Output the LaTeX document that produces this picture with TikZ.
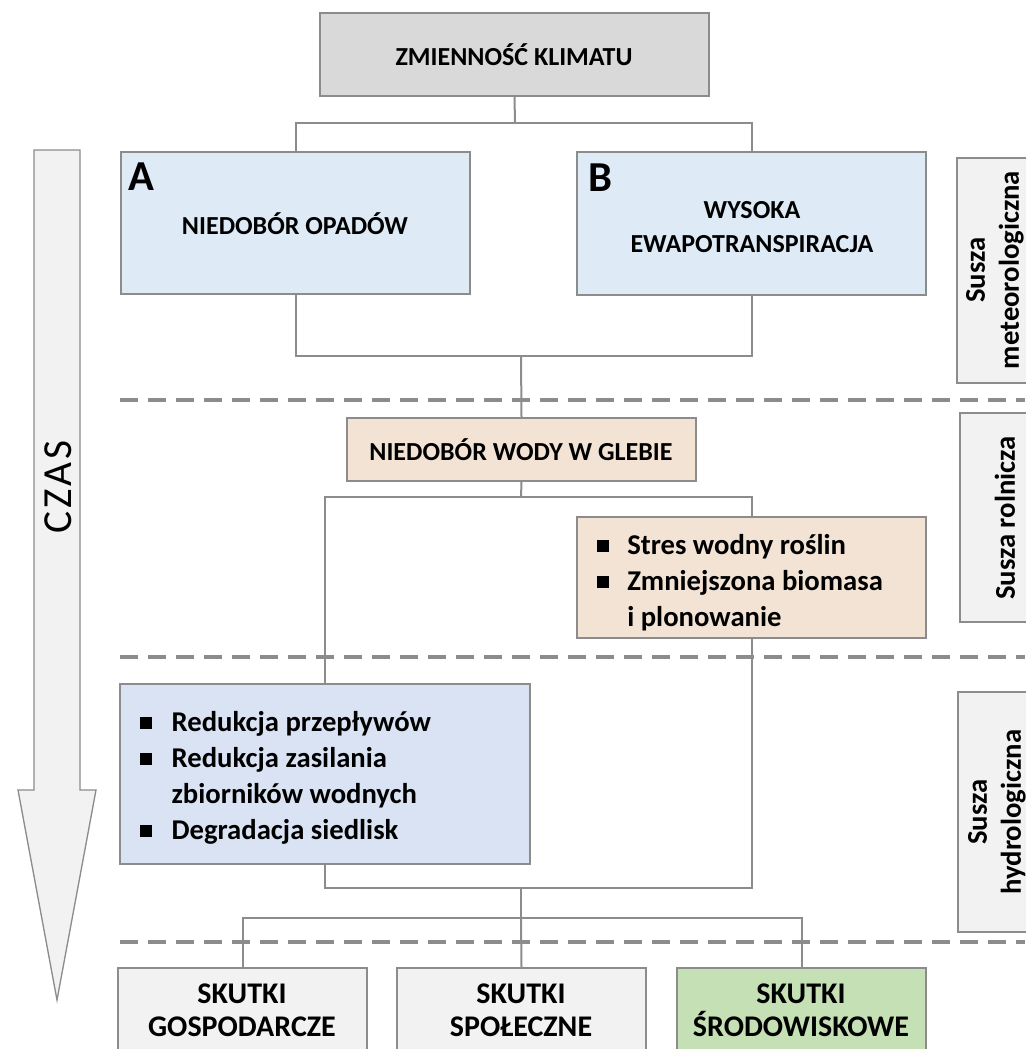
\documentclass[tikz,border=0pt]{standalone}
\usepackage{fontspec}
\setmainfont{Carlito}
\newfontfamily\czasfont[LetterSpace=7]{Carlito}
\usetikzlibrary{fit}
\definecolor{lgray}{HTML}{8C8C8C}
\definecolor{dgray}{HTML}{8C8C8C}
\definecolor{topfill}{HTML}{D9D9D9}
\definecolor{bluefill}{HTML}{DEEBF7}
\definecolor{peach}{HTML}{F2E3D5}
\definecolor{redfill}{HTML}{DAE3F3}
\definecolor{lightfill}{HTML}{F2F2F2}
\definecolor{greenfill}{HTML}{C5E0B4}
\newcommand{\mysq}{\rule[0.1em]{8.5pt}{8.5pt}}
\begin{document}
\begin{tikzpicture}[x=0.75pt,y=-0.75pt,
  conn/.style={draw=lgray, line width=1.5pt},
  bx/.style={draw=lgray, line width=1.5pt, inner sep=0pt},
  sepline/.style={draw=dgray, line width=3pt, dash pattern=on 13.5pt off 7.5pt},
  lbl/.style={inner sep=0pt, font=\bfseries\fontsize{19.5}{25}\selectfont, align=center},
  bigl/.style={inner sep=0pt, font=\bfseries\fontsize{22.5}{25}\selectfont, align=center},
  bul/.style={anchor=north west, inner sep=0pt, font=\bfseries\fontsize{21.5}{27}\selectfont},
  sidet/.style={rotate=90, inner sep=0pt, font=\bfseries\fontsize{21.5}{25.5}\selectfont, align=center},
  letter/.style={anchor=north west, inner sep=0pt, font=\bfseries\fontsize{32}{32}\selectfont}]
\useasboundingbox (0,0) rectangle (1025,1049);

% time arrow
\draw[draw=lgray, fill=lightfill, line width=1pt] (34,150) -- (80,150) -- (80,790) -- (96,790) -- (57,1000) -- (18,790) -- (34,790) -- cycle;
\node[rotate=90, inner sep=0pt, font=\czasfont\fontsize{31}{34}\selectfont] (czas) at (58,487) {CZAS};

% separators
\draw[sepline] (120,400) -- (1025,400);
\draw[sepline] (120,657) -- (1025,657);
\draw[sepline] (120,942) -- (1025,942);

% boxes
\node[bx, fill=topfill, fit={(320,13) (709,96)}] (clim) {};
\node[lbl] (climt) at (514,55) {ZMIENNOŚĆ KLIMATU};
\node[bx, fill=bluefill, fit={(121,152) (470,294)}] (ba) {};
\node[lbl] (bat) at (295,224) {NIEDOBÓR OPADÓW};
\node[bx, fill=bluefill, fit={(577,152) (926,295)}] (bb) {};
\node[lbl] (bbt) at (752,227) {WYSOKA\\EWAPOTRANSPIRACJA};
\node[letter] (la) at (128,163) {A};
\node[letter] (lb) at (588,164) {B};
\node[bx, fill=peach, fit={(347,418) (696,481)}] (soil) {};
\node[lbl] (soilt) at (521,450) {NIEDOBÓR WODY W GLEBIE};
\node[bx, fill=peach, fit={(577,517) (926,638)}] (stres) {};
\node[bul] (strest) at (597,529) {\begin{tabular}{@{}l@{\hspace{14pt}}l@{}}\mysq & Stres wodny roślin\\ \mysq & Zmniejszona biomasa\\ & i plonowanie\end{tabular}};
\node[bx, fill=redfill, fit={(120,684) (530,864)}] (red) {};
\node[bul] (redt) at (140,706) {\begin{tabular}{@{}l@{\hspace{15pt}}l@{}}\mysq & Redukcja przepływów\\ \mysq & Redukcja zasilania\\ & zbiorników wodnych\\ \mysq & Degradacja siedlisk\end{tabular}};
\node[bx, fill=lightfill, fit={(118,968) (367,1062)}] (sk1) {};
\node[bx, fill=lightfill, fit={(397,968) (646,1062)}] (sk2) {};
\node[bx, fill=greenfill, fit={(677,968) (926,1062)}] (sk3) {};
\node[bigl] (sk1t) at (242,1010) {SKUTKI\\GOSPODARCZE};
\node[bigl] (sk2t) at (521,1010) {SKUTKI\\SPOŁECZNE};
\node[bigl] (sk3t) at (801,1010) {SKUTKI\\ŚRODOWISKOWE};

% side labels
\node[bx, fill=lightfill, fit={(957,158) (1040,383)}] (s1) {};
\node[sidet] (s1t) at (995,270) {Susza\\meteorologiczna};
\node[bx, fill=lightfill, fit={(960,413) (1040,622)}] (s2) {};
\node[sidet] (s2t) at (1005,518) {Susza rolnicza};
\node[bx, fill=lightfill, fit={(958,692) (1040,932)}] (s3) {};
\node[sidet] (s3t) at (997,812) {Susza\\hydrologiczna};

% connectors
\coordinate (j1) at (515,123);
\coordinate (j2) at (521,356);
\coordinate (j3) at (521,497);
\coordinate (j4) at (521,888);
\coordinate (j5) at (521,918);
\draw[conn] (clim.south) -- (j1);
\draw[conn] (ba.north) |- (j1) -| (bb.north);
\draw[conn] (ba.south) |- (j2) -| (bb.south);
\draw[conn] (j2) -- (soil.north);
\draw[conn] (soil.south) -- (j3);
\draw[conn] (red.north) |- (j3) -| (stres.north);
\draw[conn] (red.south) |- (j4) -| (stres.south);
\draw[conn] (j4) -- (j5);
\draw[conn] (sk1.north) |- (j5) -| (sk3.north);
\draw[conn] (j5) -- (sk2.north);
\end{tikzpicture}
\end{document}
